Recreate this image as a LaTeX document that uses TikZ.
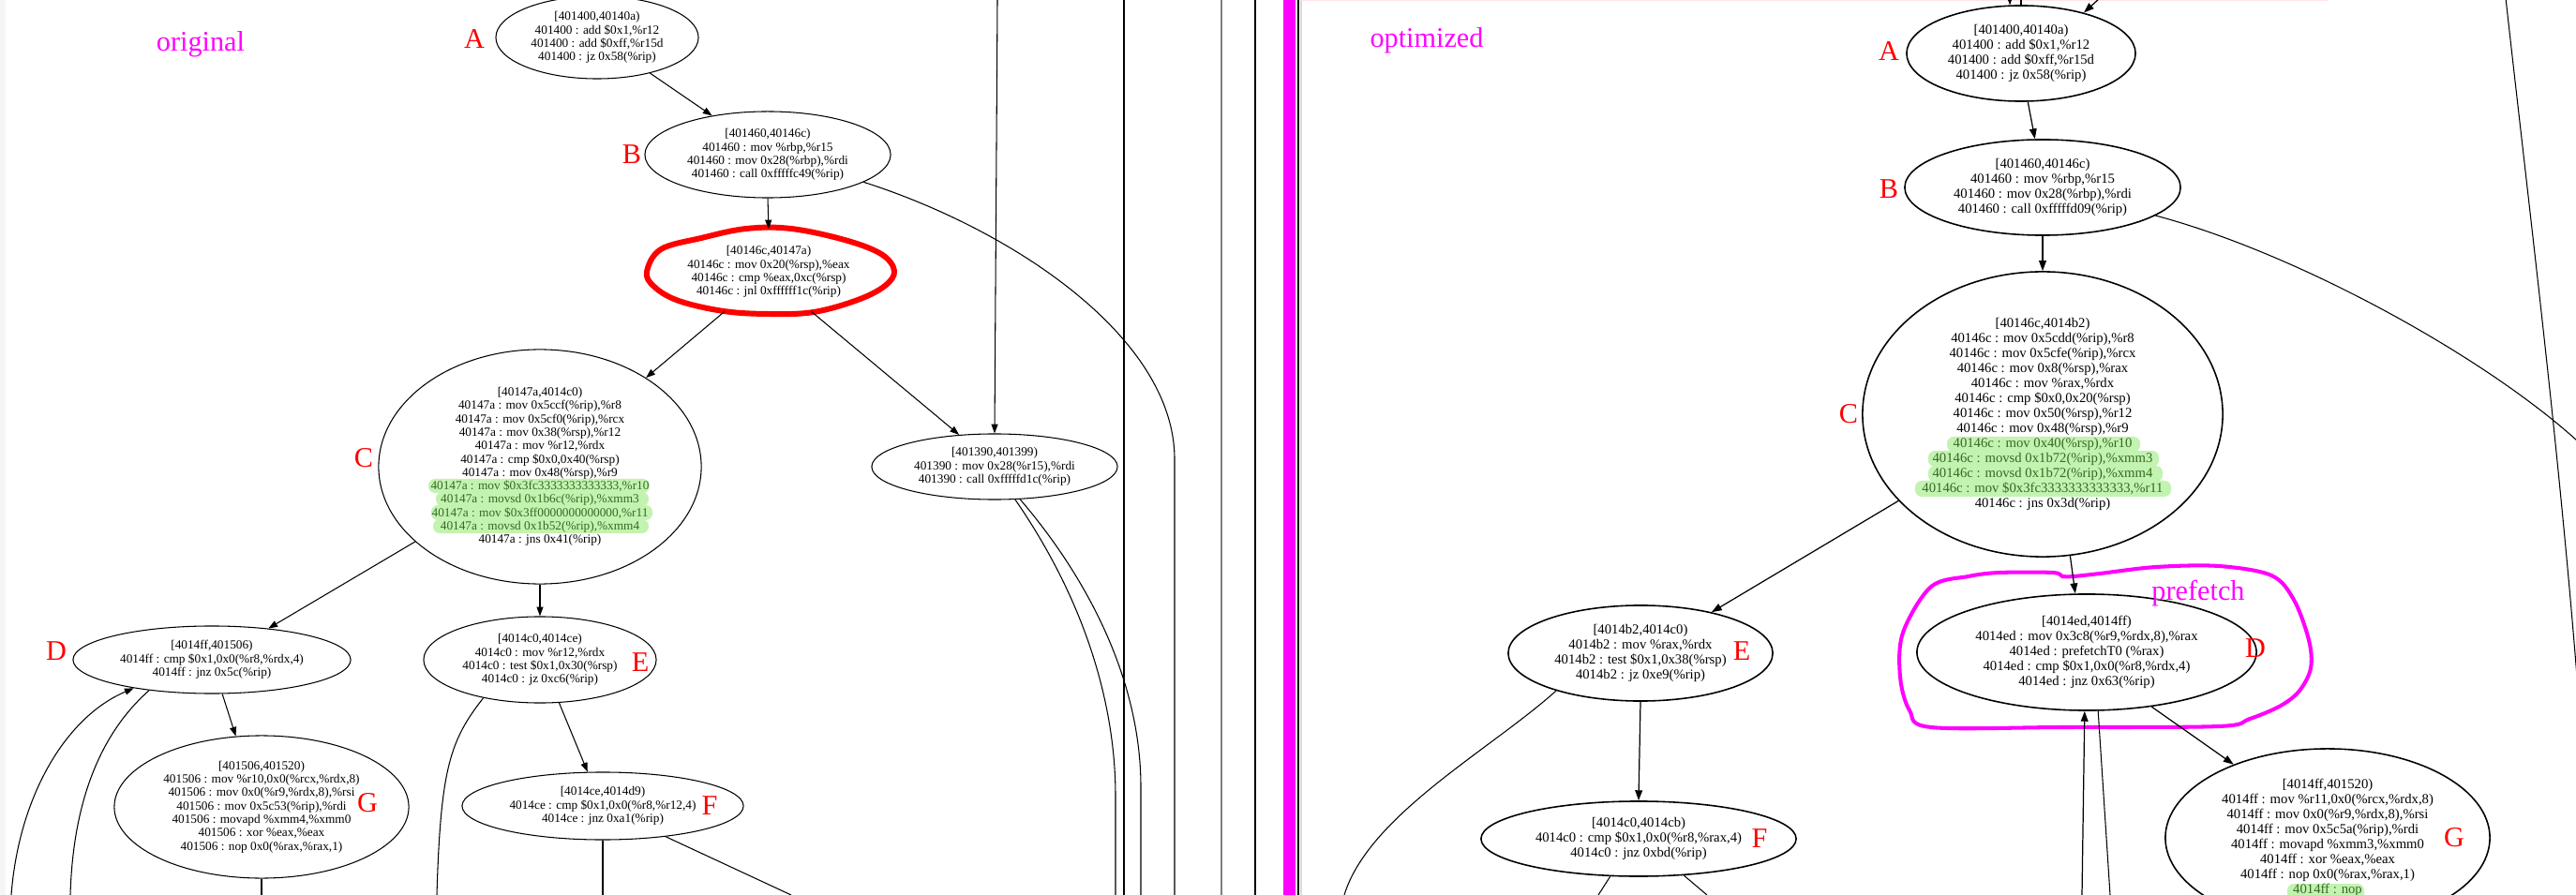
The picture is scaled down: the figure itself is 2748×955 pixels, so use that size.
\documentclass[tikz,border=0pt]{standalone}
\usepackage{fontspec}
\setmainfont{Liberation Serif}
\usetikzlibrary{shapes.geometric,arrows.meta}
\definecolor{hl}{RGB}{120,230,80}
\definecolor{mag}{RGB}{255,0,255}
\definecolor{lred}{RGB}{255,0,0}
\begin{document}
\begin{tikzpicture}[x=0.01cm,y=-0.01cm,
  lbox/.style={ellipse, draw, line width=0.3pt, inner sep=0pt, align=center, font=\fontsize{3.78}{4.07}\selectfont},
  rbox/.style={ellipse, draw, line width=0.45pt, inner sep=0pt, align=center, font=\fontsize{4.18}{4.55}\selectfont},
  tag/.style={text=lred, font=\fontsize{8.6}{9}\selectfont, inner sep=0pt},
  note/.style={text=mag, font=\fontsize{8.6}{9}\selectfont, inner sep=0pt},
  edge/.style={line width=0.3pt, -{Triangle[length=2.8pt,width=2pt]}},
  redge/.style={line width=0.35pt, -{Triangle[length=3.1pt,width=2.2pt]}},
  wire/.style={line width=0.3pt},
  hilite/.style={fill=hl, fill opacity=0.45, rounded corners=2pt}]
\useasboundingbox (0,0) rectangle (2748,955);
\clip (0,0) rectangle (2748,955);
\fill[white] (0,0) rectangle (2748,955);
\fill[gray!8] (0,0) rectangle (6,955);

% frame rules
\draw[wire] (1199,0) -- (1199,955);
\draw[wire, gray] (1303,0) -- (1303,955);
\draw[wire] (1339,0) -- (1339,955);
\fill[mag] (1369,0) rectangle (1382,955);
\draw[wire] (1385,0) -- (1385,955);
\draw[gray!30, line width=0.3pt] (1388,0) -- (1388,955);
\draw[pink!40, line width=0.4pt] (1388,0.6) -- (2483,0.6);

% ---------------- left: original ----------------
\node[note] (tOrig) at (214,47) {original};

\node[lbox, minimum width=2.16cm, minimum height=0.88cm] (LA) at (637,40)
 {[401400,40140a)\\401400 : add \$0x1,\%r12\\401400 : add \$0xff,\%r15d\\401400 : jz 0x58(\%rip)};
\node[lbox, minimum width=2.62cm, minimum height=0.92cm] (LB) at (819,165)
 {[401460,40146c)\\401460 : mov \%rbp,\%r15\\401460 : mov 0x28(\%rbp),\%rdi\\401460 : call 0xfffffc49(\%rip)};
\node[lbox, draw=none, minimum width=2.56cm, minimum height=0.9cm] (LC0) at (820,290)
 {[40146c,40147a)\\40146c : mov 0x20(\%rsp),\%eax\\40146c : cmp \%eax,0xc(\%rsp)\\40146c : jnl 0xffffff1c(\%rip)};
\node[lbox, minimum width=2.62cm, minimum height=0.7cm] (L390) at (1061,498)
 {[401390,401399)\\401390 : mov 0x28(\%r15),\%rdi\\401390 : call 0xfffffd1c(\%rip)};
\node[lbox, minimum width=3.44cm, minimum height=2.5cm] (LC) at (576,498)
 {[40147a,4014c0)\\40147a : mov 0x5ccf(\%rip),\%r8\\40147a : mov 0x5cf0(\%rip),\%rcx\\40147a : mov 0x38(\%rsp),\%r12\\40147a : mov \%r12,\%rdx\\40147a : cmp \$0x0,0x40(\%rsp)\\40147a : mov 0x48(\%rsp),\%r9\\40147a : mov \$0x3fc3333333333333,\%r10\\40147a : movsd 0x1b6c(\%rip),\%xmm3\\40147a : mov \$0x3ff0000000000000,\%r11\\40147a : movsd 0x1b52(\%rip),\%xmm4\\40147a : jns 0x41(\%rip)};
\node[lbox, minimum width=2.96cm, minimum height=0.72cm] (LD) at (226,704)
 {[4014ff,401506)\\4014ff : cmp \$0x1,0x0(\%r8,\%rdx,4)\\4014ff : jnz 0x5c(\%rip)};
\node[lbox, minimum width=2.48cm, minimum height=0.92cm] (LE) at (576,704)
 {[4014c0,4014ce)\\4014c0 : mov \%r12,\%rdx\\4014c0 : test \$0x1,0x30(\%rsp)\\4014c0 : jz 0xc6(\%rip)};
\node[lbox, minimum width=3.14cm, minimum height=1.52cm] (LG) at (279,861)
 {[401506,401520)\\401506 : mov \%r10,0x0(\%rcx,\%rdx,8)\\401506 : mov 0x0(\%r9,\%rdx,8),\%rsi\\401506 : mov 0x5c53(\%rip),\%rdi\\401506 : movapd \%xmm4,\%xmm0\\401506 : xor \%eax,\%eax\\401506 : nop 0x0(\%rax,\%rax,1)};
\node[lbox, minimum width=3.0cm, minimum height=0.72cm] (LF) at (643,860)
 {[4014ce,4014d9)\\4014ce : cmp \$0x1,0x0(\%r8,\%r12,4)\\4014ce : jnz 0xa1(\%rip)};

% red scribble round the hot block
\draw[lred, line width=1.7pt] plot[smooth cycle, tension=0.6] coordinates
 {(690,290) (705,266) (748,254) (796,244) (844,244) (901,256) (940,271) (954,289)
  (944,305) (915,320) (868,333) (820,335) (772,332) (724,321) (698,306)};

% highlights (left C)
\fill[hilite] (457,511) rectangle (693,526) (465,525) rectangle (692,540)
  (460,539) rectangle (696,555) (462,554) rectangle (692,569);

% labels left
\node[tag] (lA) at (506,42) {A};
\node[tag] (lB) at (674,165) {B};
\node[tag] (lC) at (388,489) {C};
\node[tag] (lD) at (60,695) {D};
\node[tag] (lE) at (683,707) {E};
\node[tag] (lF) at (757,860) {F};
\node[tag] (lG) at (392,857) {G};

% edges left
\draw[edge] (LA.-34) -- (LB.145);
\draw[edge] (LB.south) -- (LC0.north);
\coordinate (lbV) at (1253,490);
\coordinate (lbEnd) at (1253,955);
\draw[wire] (LB.-16) .. controls (1080,245) and (1253,360) .. (lbV) -- (lbEnd);
\draw[edge] (LC0.-138) -- (LC.40);
\draw[edge] (LC0.-43) -- (L390.138);
\coordinate (t390) at (1064,0);
\draw[edge] (t390) -- (L390.north);
\coordinate (a390) at (1190,850);
\coordinate (a390e) at (1190,955);
\draw[wire] (L390.-58) .. controls (1150,630) and (1190,740) .. (a390) -- (a390e);
\coordinate (b390) at (1217,840);
\coordinate (b390e) at (1217,955);
\draw[wire] (L390.-52) .. controls (1120,570) and (1217,690) .. (b390) -- (b390e);
\draw[edge] (LC.-149.5) -- (LD.29.5);
\draw[edge] (LC.south) -- (LE.north);
\draw[edge] (LD.-73) -- (LG.110);
\coordinate (ldIn) at (12,955);
\draw[edge] (ldIn) .. controls (20,850) and (70,765) .. (LD.-160.6);
\coordinate (ldOut) at (75,955);
\draw[wire] (LD.-154) .. controls (110,780) and (78,850) .. (ldOut);
\draw[edge] (LE.-66.5) -- (LF.114);
\coordinate (leOut) at (466,955);
\draw[wire] (LE.-146) .. controls (480,790) and (470,820) .. (leOut);
\coordinate (lfA) at (643,955);
\draw[wire] (LF.south) -- (lfA);
\coordinate (lfB) at (844,955);
\draw[wire] (LF.-26) -- (lfB);
\coordinate (lgA) at (279,955);
\draw[wire] (LG.south) -- (lgA);

% ---------------- right: optimized ----------------
\node[note] (tOpt) at (1522,43) {optimized};

\node[rbox, minimum width=2.44cm, minimum height=1.02cm] (RA) at (2156,57)
 {[401400,40140a)\\401400 : add \$0x1,\%r12\\401400 : add \$0xff,\%r15d\\401400 : jz 0x58(\%rip)};
\node[rbox, minimum width=2.94cm, minimum height=1.02cm] (RB) at (2179,200)
 {[401460,40146c)\\401460 : mov \%rbp,\%r15\\401460 : mov 0x28(\%rbp),\%rdi\\401460 : call 0xfffffd09(\%rip)};
\node[rbox, minimum width=3.84cm, minimum height=3.04cm] (RC) at (2179,442)
 {[40146c,4014b2)\\40146c : mov 0x5cdd(\%rip),\%r8\\40146c : mov 0x5cfe(\%rip),\%rcx\\40146c : mov 0x8(\%rsp),\%rax\\40146c : mov \%rax,\%rdx\\40146c : cmp \$0x0,0x20(\%rsp)\\40146c : mov 0x50(\%rsp),\%r12\\40146c : mov 0x48(\%rsp),\%r9\\40146c : mov 0x40(\%rsp),\%r10\\40146c : movsd 0x1b72(\%rip),\%xmm3\\40146c : movsd 0x1b72(\%rip),\%xmm4\\40146c : mov \$0x3fc3333333333333,\%r11\\40146c : jns 0x3d(\%rip)};
\node[rbox, minimum width=2.82cm, minimum height=1.02cm] (RE) at (1750,697)
 {[4014b2,4014c0)\\4014b2 : mov \%rax,\%rdx\\4014b2 : test \$0x1,0x38(\%rsp)\\4014b2 : jz 0xe9(\%rip)};
\node[rbox, minimum width=3.36cm, minimum height=0.8cm] (RF) at (1748,895)
 {[4014c0,4014cb)\\4014c0 : cmp \$0x1,0x0(\%r8,\%rax,4)\\4014c0 : jnz 0xbd(\%rip)};
\node[rbox, minimum width=3.62cm, minimum height=1.24cm] (RD) at (2226,696)
 {[4014ed,4014ff)\\4014ed : mov 0x3c8(\%r9,\%rdx,8),\%rax\\4014ed : prefetchT0 (\%rax)\\4014ed : cmp \$0x1,0x0(\%r8,\%rdx,4)\\4014ed : jnz 0x63(\%rip)};
\node[rbox, minimum width=3.46cm, minimum height=1.9cm] (RG) at (2483,894)
 {[4014ff,401520)\\4014ff : mov \%r11,0x0(\%rcx,\%rdx,8)\\4014ff : mov 0x0(\%r9,\%rdx,8),\%rsi\\4014ff : mov 0x5c5a(\%rip),\%rdi\\4014ff : movapd \%xmm3,\%xmm0\\4014ff : xor \%eax,\%eax\\4014ff : nop 0x0(\%rax,\%rax,1)\\4014ff : nop};

% highlights (right)
\fill[hilite] (2077,466) rectangle (2283,482) (2057,481) rectangle (2303,498)
  (2057,497) rectangle (2307,514) (2043,513) rectangle (2316,530);
\fill[hilite] (2440,943) rectangle (2522,960);

% prefetch loop
\draw[mag, line width=1.15pt] plot[smooth cycle, tension=0.55] coordinates
 {(2060,626) (2100,615) (2133,611) (2190,611) (2200,615) (2212,615) (2240,612)
  (2300,605) (2367,604) (2423,614) (2447,640) (2463,683) (2465,713) (2453,737)
  (2433,753) (2400,767) (2367,775) (2200,776) (2060,776) (2037,758) (2027,722)
  (2030,675)};
\node[note] (tPre) at (2345,633) {prefetch};

% labels right
\node[tag] (rA) at (2015,55) {A};
\node[tag] (rB) at (2015,202) {B};
\node[tag] (rC) at (1972,442) {C};
\node[tag] (rD) at (2406,692) {D};
\node[tag] (rE) at (1858,695) {E};
\node[tag] (rF) at (1877,895) {F};
\node[tag] (rG) at (2618,894) {G};

% edges right
\coordinate (ta1) at (2144,0);
\draw[redge] (ta1) -- (RA.103.5);
\coordinate (ta2) at (2156,0);
\draw[wire] (RA.north) -- (ta2);
\coordinate (ta3) at (2240,-2);
\draw[redge] (ta3) -- (RA.33);
\draw[redge] (RA.-82.5) -- (RB.99.6);
\draw[redge] (RB.south) -- (RC.north);
\coordinate (rbEnd) at (2750,471);
\draw[wire] (RB.-14) .. controls (2450,270) and (2650,380) .. (rbEnd);
\coordinate (rtop) at (2673,-2);
\coordinate (rbot) at (2750,735);
\draw[wire] (rtop) .. controls (2700,240) and (2730,480) .. (rbot);
\draw[redge] (RC.-149.2) -- (RE.30.6);
\draw[redge] (RC.-79.6) -- (RD.101.7);
\draw[redge] (RE.south) -- (RF.north);
\coordinate (reOut) at (1434,955);
\draw[wire] (RE.-156) .. controls (1590,800) and (1460,870) .. (reOut);
\coordinate (rfA) at (1705,955);
\draw[wire] (RF.-127) -- (rfA);
\coordinate (rfB) at (1821,955);
\draw[wire] (RF.-39) -- (rfB);
\draw[redge] (RD.-40.3) -- (RG.142.9);
\coordinate (rdIn) at (2221,955);
\draw[redge] (rdIn) -- (RD.-92);
\coordinate (rdOut) at (2251,955);
\draw[wire] (RD.-79.4) -- (rdOut);
\end{tikzpicture}
\end{document}
